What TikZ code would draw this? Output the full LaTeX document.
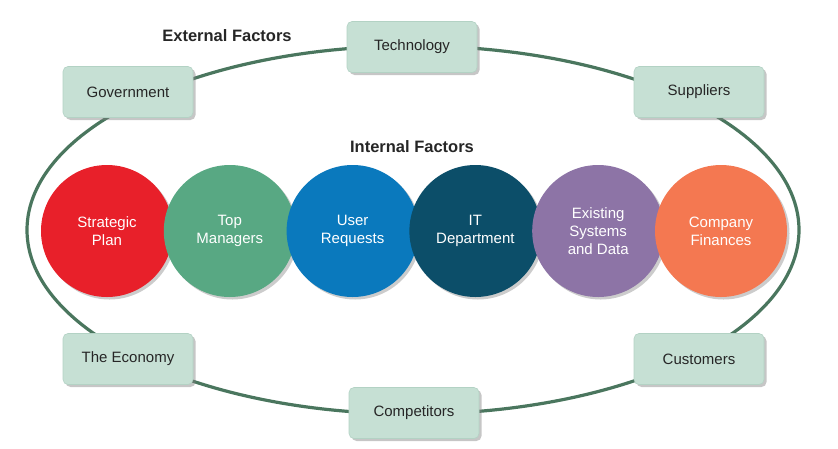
\documentclass[tikz,border=0pt]{standalone}
\usepackage{fontspec}
\setmainfont{Liberation Sans}
\usetikzlibrary{positioning, chains, shadows}

\definecolor{ringgreen}{HTML}{4A765E}
\definecolor{boxfill}{HTML}{C6E0D4}
\definecolor{boxedge}{HTML}{B3D2C4}
\definecolor{planred}{HTML}{E8202A}
\definecolor{mgrgreen}{HTML}{58A883}
\definecolor{userblue}{HTML}{0A79BD}
\definecolor{itteal}{HTML}{0C4E69}
\definecolor{datapurple}{HTML}{8D74A6}
\definecolor{moneyorange}{HTML}{F47851}
\definecolor{labelgray}{HTML}{262626}

\begin{document}
\begin{tikzpicture}[
   x=1pt, y=-1pt,
   start chain = going right,
   node distance = -9.6pt,
   factor/.style = {rectangle, rounded corners=5pt, fill=boxfill, draw=boxedge,
      line width=0.6pt, minimum width=130pt, minimum height=51pt,
      font=\fontsize{15}{17}\selectfont, text=labelgray,
      drop shadow={shadow xshift=2.5pt, shadow yshift=-2.5pt, opacity=0.45}},
   inner/.style = {circle, minimum size=132pt, inner sep=0pt, align=center,
      text=white, font=\fontsize{15}{18}\selectfont,
      drop shadow={shadow xshift=2.5pt, shadow yshift=-2.5pt, opacity=0.4}},
   heading/.style = {font=\bfseries\fontsize{16.5}{18}\selectfont, text=labelgray}]
   \useasboundingbox (0,0) rectangle (838,448);

   % outer ring of external factors
   \draw[ringgreen, line width=3.2pt] (413,230) ellipse [x radius=386, y radius=184];

   \node[heading] (ext) at (227,36) {External Factors};
   \node[heading] (int) at (412,147) {Internal Factors};

   \node[factor] (tech) at (412,47)  {Technology};
   \node[factor] (gov)  at (128,92)  {Government};
   \node[factor] (sup)  at (699,92)  {Suppliers};
   \node[factor] (econ) at (128,359) {The Economy};
   \node[factor] (cust) at (699,359) {Customers};
   \node[factor] (comp) at (414,413) {Competitors};

   % internal factors
   \node[inner, fill=planred, on chain] (plan) at (107,231) {Strategic\\Plan};
   \node[inner, fill=mgrgreen, on chain]    (mgr)   {Top\\Managers};
   \node[inner, fill=userblue, on chain]    (user)  {User\\Requests};
   \node[inner, fill=itteal, on chain]      (it)    {IT\\Department};
   \node[inner, fill=datapurple, on chain]  (data)  {Existing\\Systems\\and Data};
   \node[inner, fill=moneyorange, on chain] (money) {Company\\Finances};
\end{tikzpicture}
\end{document}
